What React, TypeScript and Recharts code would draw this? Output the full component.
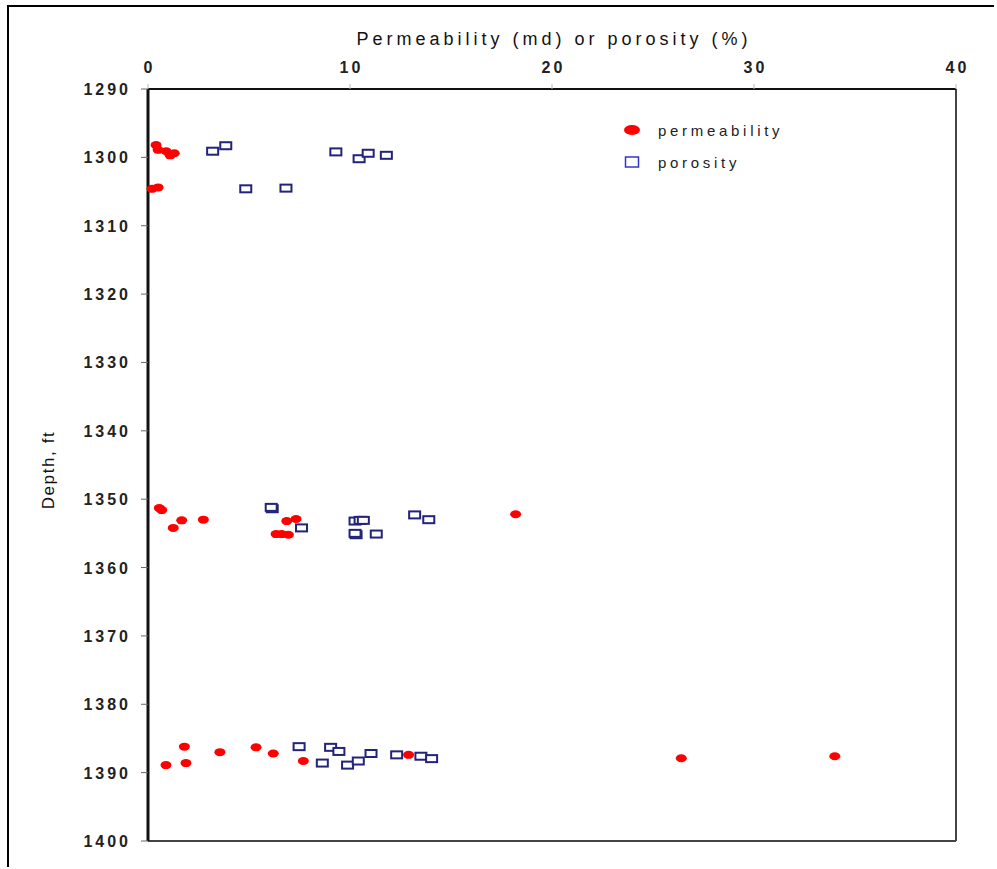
import React from 'react';
import { ScatterChart, Scatter, XAxis, YAxis, ReferenceLine } from 'recharts';

const depthTicks = [1290, 1300, 1310, 1320, 1330, 1340, 1350, 1360, 1370, 1380, 1390, 1400];
const valueTicks = [0, 10, 20, 30, 40];

const permeabilityValue = [
  0.4, 0.5, 0.9, 1.1, 1.3, 0.2, 0.5,
  0.56, 0.68, 1.67, 1.25, 2.74, 6.87, 7.33, 6.34, 6.62, 6.95, 18.2,
  1.8, 0.89, 1.88, 3.56, 5.35, 6.2, 7.69, 12.9, 26.4, 34.0,
];
const permeabilityDepth = [
  1298.2, 1298.9, 1299.1, 1299.7, 1299.4, 1304.6, 1304.4,
  1351.3, 1351.6, 1353.1, 1354.2, 1353.0, 1353.2, 1352.9, 1355.1, 1355.1, 1355.2, 1352.2,
  1386.2, 1388.9, 1388.6, 1387.0, 1386.3, 1387.2, 1388.3, 1387.4, 1387.9, 1387.6,
];

const porosityValue = [
  3.2, 3.85, 9.3, 10.45, 10.9, 11.8, 4.84, 6.83,
  6.15, 6.1, 7.6, 10.25, 10.5, 10.66, 10.3, 10.25, 11.3, 13.2, 13.9,
  7.48, 9.04, 9.45, 8.63, 9.88, 10.41, 11.04, 12.31, 13.51, 14.04,
];
const porosityDepth = [
  1299.1, 1298.3, 1299.2, 1300.2, 1299.4, 1299.7, 1304.6, 1304.5,
  1351.4, 1351.2, 1354.2, 1353.2, 1353.1, 1353.1, 1355.2, 1355.0, 1355.1, 1352.3, 1353.0,
  1386.2, 1386.3, 1386.9, 1388.6, 1388.9, 1388.3, 1387.2, 1387.4, 1387.6, 1387.95,
];

const permData = permeabilityValue.map((v, i) => ({ x: v, y: permeabilityDepth[i] }));
const porData = porosityValue.map((v, i) => ({ x: v, y: porosityDepth[i] }));

const FONT = "Arial, 'Liberation Sans', sans-serif";

const RedEllipse = (p: any) => (
  <ellipse cx={p.cx} cy={p.cy} rx={5.5} ry={4} fill="#ff0000" />
);
const NavyBox = (p: any) => (
  <rect x={p.cx - 5.5} y={p.cy - 3.5} width={11} height={7} fill="#ffffff" stroke="#23237a" strokeWidth={2} />
);

const YTick = ({ x, y, payload }: any) => (
  <text x={x} y={y} dy={6} textAnchor="end" fill="#222" fontFamily={FONT} fontSize={16} fontWeight="bold" style={{ letterSpacing: 3 }}>
    {payload.value}
  </text>
);
const XTick = ({ x, y, payload }: any) => (
  <text x={x + 1.5} y={y} textAnchor="middle" fill="#222" fontFamily={FONT} fontSize={16} fontWeight="bold" style={{ letterSpacing: 3 }}>
    {payload.value}
  </text>
);

const TitleLabel = (props: any) => {
  const vb = props.viewBox || { x: 148, width: 808 };
  return (
    <text x={vb.x + vb.width / 2 + 2} y={45} textAnchor="middle" fill="#111" fontFamily={FONT} fontSize={18} style={{ letterSpacing: 4 }}>
      Permeability (md) or porosity (%)
    </text>
  );
};
const DepthLabel = () => (
  <text x={48} y={470} transform="rotate(-90, 48, 470)" textAnchor="middle" dominantBaseline="central" fill="#111" fontFamily={FONT} fontSize={17} style={{ letterSpacing: 1.6 }}>
    Depth, ft
  </text>
);

const LegendBox = () => (
  <div style={{ position: 'absolute', left: 622, top: 120, width: 220, fontFamily: FONT, fontSize: 15, color: '#222', letterSpacing: 3.7 }}>
    <div style={{ display: 'flex', alignItems: 'center', height: 20 }}>
      <svg width={20} height={20}><ellipse cx={10} cy={10} rx={8} ry={5} fill="#ff0000" /></svg>
      <span style={{ marginLeft: 16 }}>permeability</span>
    </div>
    <div style={{ display: 'flex', alignItems: 'center', height: 20, marginTop: 12 }}>
      <svg width={20} height={20}><rect x={3.5} y={5} width={13} height={10} fill="#fff" stroke="#3434c8" strokeWidth={1.5} /></svg>
      <span style={{ marginLeft: 16 }}>porosity</span>
    </div>
  </div>
);

export default function App() {
  return (
    <div style={{ position: 'absolute', left: 0, top: 0, width: 997, height: 869, background: '#fff' }}>
      <div style={{ position: 'absolute', left: 7, top: 5, width: 985, height: 860, borderTop: '2px solid #000', borderLeft: '2px solid #000' }} />
      <div style={{ position: 'absolute', left: 0, top: 0 }}>
        <ScatterChart width={990} height={860} margin={{ top: 59, left: 78, right: 34, bottom: 19 }}>
          <XAxis
            xAxisId="t"
            type="number"
            dataKey="x"
            orientation="top"
            domain={[0, 40]}
            ticks={valueTicks}
            height={30}
            axisLine={{ stroke: '#111', strokeWidth: 2 }}
            tickLine={{ stroke: '#bbb' }}
            tickSize={5}
            tickMargin={11}
            tick={<XTick />}
            label={{ content: <TitleLabel /> }}
          />
          <YAxis
            yAxisId="l"
            type="number"
            dataKey="y"
            reversed
            domain={[1290, 1400]}
            ticks={depthTicks}
            width={70}
            axisLine={{ stroke: '#111', strokeWidth: 3 }}
            tickLine={{ stroke: '#666' }}
            tickSize={7}
            tickMargin={10}
            tick={<YTick />}
            label={{ content: <DepthLabel /> }}
          />
          <ReferenceLine xAxisId="t" yAxisId="l" x={40} stroke="#444" strokeWidth={2} />
          <ReferenceLine xAxisId="t" yAxisId="l" y={1400} stroke="#444" strokeWidth={2} />
          <Scatter name="porosity" data={porData} xAxisId="t" yAxisId="l" shape={NavyBox} isAnimationActive={false} />
          <Scatter name="permeability" data={permData} xAxisId="t" yAxisId="l" shape={RedEllipse} isAnimationActive={false} />
        </ScatterChart>
        <LegendBox />
      </div>
    </div>
  );
}
